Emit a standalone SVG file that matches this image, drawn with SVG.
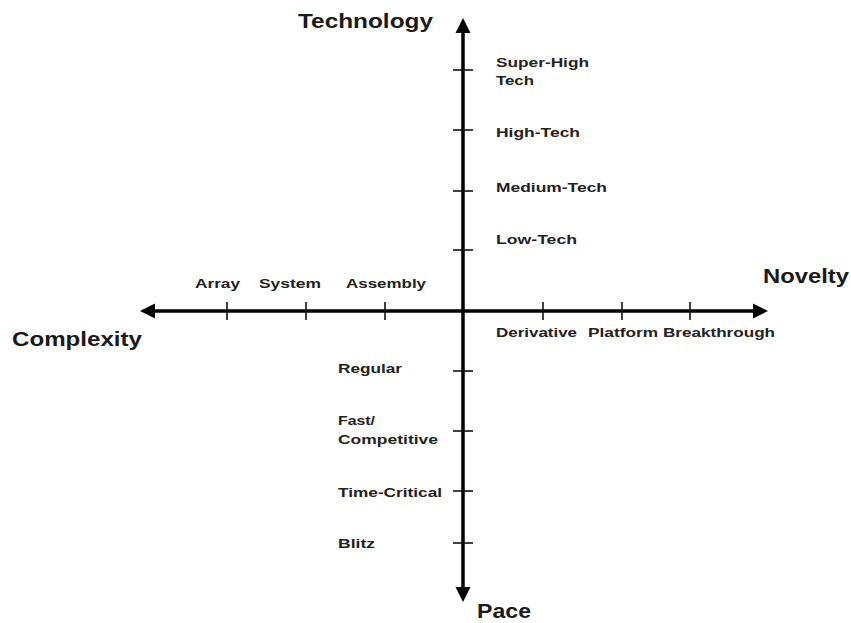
<svg xmlns="http://www.w3.org/2000/svg" width="851" height="623" viewBox="0 0 851 623">
  <style>
    .axis { stroke: #000; stroke-width: 3.5; fill: none; }
    .tick { stroke: #111; stroke-width: 1.6; }
    .head { fill: #000; }
    .lbl { font-family: "Liberation Sans", Arial, sans-serif; font-weight: bold; font-size: 13px; fill: #222; }
    .title { font-family: "Liberation Sans", Arial, sans-serif; font-weight: bold; font-size: 20px; fill: #1a1a1a; }
  </style>
  <rect width="851" height="623" fill="#fff"/>

  <g id="connectors">
    <!-- vertical axis: Technology (up) / Pace (down) -->
    <line class="axis" x1="463" y1="30" x2="463" y2="590"/>
    <polygon class="head" points="463,18 455.5,33 470.5,33"/>
    <polygon class="head" points="463,602 455.5,587 470.5,587"/>
    <!-- horizontal axis: Complexity (left) / Novelty (right) -->
    <line class="axis" x1="152" y1="311" x2="756" y2="311"/>
    <polygon class="head" points="140,311 155,303.5 155,318.5"/>
    <polygon class="head" points="768,311 753,303.5 753,318.5"/>
    <!-- ticks on vertical axis -->
    <line class="tick" x1="453" y1="70" x2="473" y2="70"/>
    <line class="tick" x1="453" y1="130" x2="473" y2="130"/>
    <line class="tick" x1="453" y1="191" x2="473" y2="191"/>
    <line class="tick" x1="453" y1="250" x2="473" y2="250"/>
    <line class="tick" x1="453" y1="371" x2="473" y2="371"/>
    <line class="tick" x1="453" y1="431" x2="473" y2="431"/>
    <line class="tick" x1="453" y1="491" x2="473" y2="491"/>
    <line class="tick" x1="453" y1="543" x2="473" y2="543"/>
    <!-- ticks on horizontal axis -->
    <line class="tick" x1="227" y1="302" x2="227" y2="320"/>
    <line class="tick" x1="306" y1="302" x2="306" y2="320"/>
    <line class="tick" x1="385" y1="302" x2="385" y2="320"/>
    <line class="tick" x1="543" y1="302" x2="543" y2="320"/>
    <line class="tick" x1="622" y1="302" x2="622" y2="320"/>
    <line class="tick" x1="690" y1="302" x2="690" y2="320"/>
  </g>

  <!-- axis titles -->
  <g id="technology"><text class="title" x="298" y="28" textLength="135" lengthAdjust="spacingAndGlyphs">Technology</text></g>
  <g id="pace"><text class="title" x="477" y="618" textLength="54" lengthAdjust="spacingAndGlyphs">Pace</text></g>
  <g id="complexity"><text class="title" x="12" y="346" textLength="130" lengthAdjust="spacingAndGlyphs">Complexity</text></g>
  <g id="novelty"><text class="title" x="763" y="283" textLength="86" lengthAdjust="spacingAndGlyphs">Novelty</text></g>

  <!-- technology levels -->
  <g id="super-high-tech">
    <text class="lbl" x="496" y="67" textLength="93" lengthAdjust="spacingAndGlyphs">Super-High</text>
    <text class="lbl" x="496" y="85" textLength="38" lengthAdjust="spacingAndGlyphs">Tech</text>
  </g>
  <g id="high-tech"><text class="lbl" x="496" y="137" textLength="84" lengthAdjust="spacingAndGlyphs">High-Tech</text></g>
  <g id="medium-tech"><text class="lbl" x="496" y="192" textLength="111" lengthAdjust="spacingAndGlyphs">Medium-Tech</text></g>
  <g id="low-tech"><text class="lbl" x="496" y="244" textLength="81" lengthAdjust="spacingAndGlyphs">Low-Tech</text></g>

  <!-- complexity levels -->
  <g id="array"><text class="lbl" x="195" y="288" textLength="45" lengthAdjust="spacingAndGlyphs">Array</text></g>
  <g id="system"><text class="lbl" x="259" y="288" textLength="62" lengthAdjust="spacingAndGlyphs">System</text></g>
  <g id="assembly"><text class="lbl" x="346" y="288" textLength="80" lengthAdjust="spacingAndGlyphs">Assembly</text></g>

  <!-- novelty levels -->
  <g id="derivative"><text class="lbl" x="496" y="337" textLength="81" lengthAdjust="spacingAndGlyphs">Derivative</text></g>
  <g id="platform"><text class="lbl" x="588" y="337" textLength="70" lengthAdjust="spacingAndGlyphs">Platform</text></g>
  <g id="breakthrough"><text class="lbl" x="663" y="337" textLength="112" lengthAdjust="spacingAndGlyphs">Breakthrough</text></g>

  <!-- pace levels -->
  <g id="regular"><text class="lbl" x="338" y="373" textLength="64" lengthAdjust="spacingAndGlyphs">Regular</text></g>
  <g id="fast-competitive">
    <text class="lbl" x="338" y="425" textLength="37" lengthAdjust="spacingAndGlyphs">Fast/</text>
    <text class="lbl" x="338" y="444" textLength="100" lengthAdjust="spacingAndGlyphs">Competitive</text>
  </g>
  <g id="time-critical"><text class="lbl" x="338" y="497" textLength="104" lengthAdjust="spacingAndGlyphs">Time-Critical</text></g>
  <g id="blitz"><text class="lbl" x="338" y="548" textLength="37" lengthAdjust="spacingAndGlyphs">Blitz</text></g>
</svg>
